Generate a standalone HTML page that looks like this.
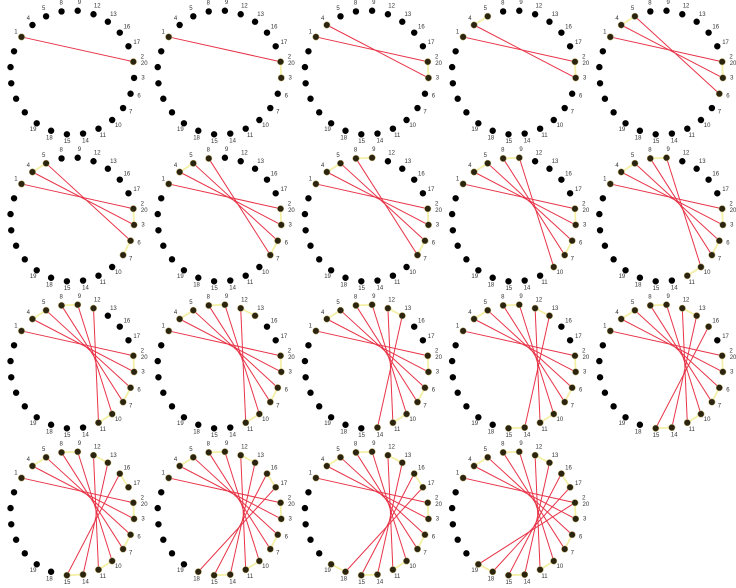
<!DOCTYPE html>
<html><head><meta charset="utf-8"><style>
html,body{margin:0;padding:0;background:#fff;}
svg{display:block;}
text{font-family:"Liberation Sans",sans-serif;font-size:6px;fill:#333;}
</style></head><body>
<svg id="chart" width="736" height="588" viewBox="0 0 736 588"></svg>
<script>
// node labels around circle and their angle (deg, counterclockwise from +x)
const nodeLabels = ["9","8","5","4","1","","","","","","19","18","15","14","11","10","7","6","3","2","17","16","13","12"];
const nodeAngles = [85,100,115,130,145,160,175,190,205,220,235,250,265,280,295,310,325,340,355,10,25,40,55,70];
// path order visited
const pathSeq = [1,2,3,4,5,6,7,8,9,10,11,12,13,14,15,16,17,18,19,20];
// angle of each numbered node
const numAngle = {1:145,2:10,3:355,4:130,5:115,6:340,7:325,8:100,9:85,10:310,11:295,12:70,13:55,14:280,15:265,16:40,17:25,18:250,19:235,20:10};
const panelCount = 19;

const NS="http://www.w3.org/2000/svg";
const svg=document.getElementById('chart');
const PW=147.2, PH=147, CX=72.3, CY=72.5, R=62;
function pos(ang,rad){const a=ang*Math.PI/180;return [CX+rad*Math.cos(a), CY-rad*Math.sin(a)];}
function mk(tag,attrs,parent){const e=document.createElementNS(NS,tag);for(const k in attrs)e.setAttribute(k,attrs[k]);parent.appendChild(e);return e;}

for(let p=0;p<panelCount;p++){
  const col=p%5,row=Math.floor(p/5);
  const g=mk('g',{transform:`translate(${col*PW},${row*PH})`},svg);
  
  
  const steps=p+2;
  const visited=new Set(pathSeq.slice(0,steps).map(n=>numAngle[n]));
  for(let i=0;i<steps-1;i++){
    const a=pathSeq[i],b=pathSeq[i+1];
    const [x1,y1]=pos(numAngle[a],R),[x2,y2]=pos(numAngle[b],R);
    const red=(a%2===1);
    const l=mk('line',{x1,y1,x2,y2,stroke:red?'#e83448':'#f4f0a8','stroke-width':red?1:1.8},g);
    
    
  }
  for(let i=0;i<nodeAngles.length;i++){
    const [x,y]=pos(nodeAngles[i],R);
    const v=visited.has(nodeAngles[i]);
    const c=mk('circle',{cx:x,cy:y,r:3.2,fill:v?'#2a2410':'#000',stroke:v?'#b8a860':'none','stroke-width':0.5},g);
    
    
    const lab=nodeLabels[i];
    if(lab){
      const [tx,ty]=pos(nodeAngles[i],R+8);
      if(lab==="2"){
        const t1=mk('text',{x:tx+1,y:ty-3,'text-anchor':'middle','dominant-baseline':'central'},g);t1.textContent='2';
        
        
        const t2=mk('text',{x:tx+3,y:ty+3.5,'text-anchor':'middle','dominant-baseline':'central'},g);t2.textContent='20';
        
        
      } else {
        const t=mk('text',{x:tx+1,y:ty,'text-anchor':'middle','dominant-baseline':'central'},g);t.textContent=lab;
        
        
      }
    }
  }
}
</script>
</body></html>
